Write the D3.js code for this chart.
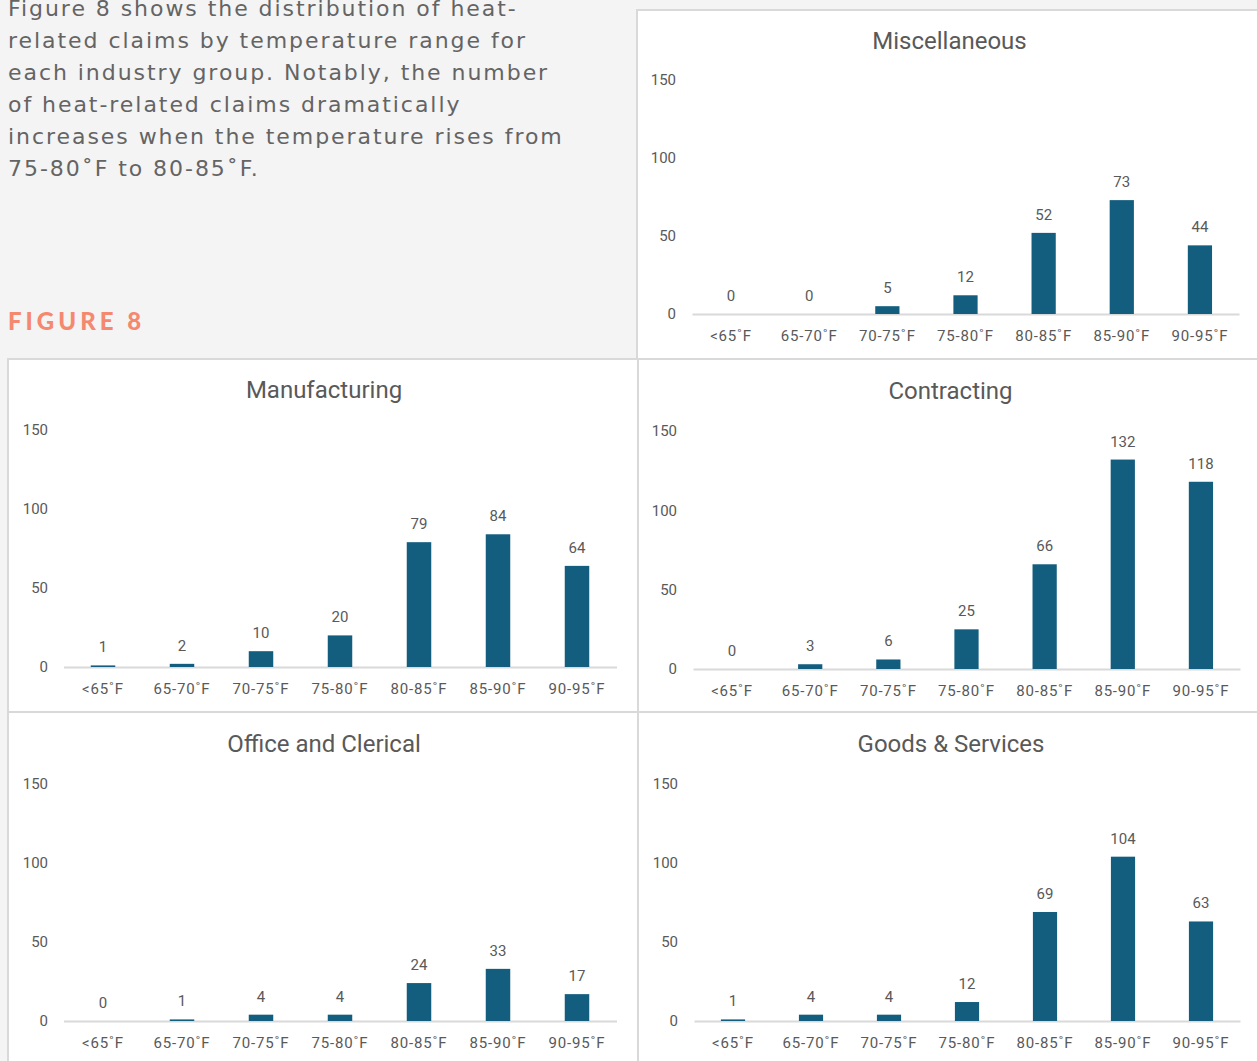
<!DOCTYPE html>
<html>
<head>
<meta charset="utf-8">
<script src="https://cdn.jsdelivr.net/npm/d3@7"></script>
<style>
  html, body { margin: 0; padding: 0; background: #f4f4f4; }
  svg { display: block; }
</style>
</head>
<body>
<svg id="fig" width="1257" height="1061"></svg>
<script>
// Temperature ranges shared by every industry group
const categories = ["<65˚F", "65-70˚F", "70-75˚F", "75-80˚F", "80-85˚F", "85-90˚F", "90-95˚F"];
const yTicks = [0, 50, 100, 150];

// Heat-related claims per temperature range, by industry group
const miscellaneous = [0, 0, 5, 12, 52, 73, 44];
const manufacturing = [1, 2, 10, 20, 79, 84, 64];
const contracting   = [0, 3, 6, 25, 66, 132, 118];
const officeClerical = [0, 1, 4, 4, 24, 33, 17];
const goodsServices = [1, 4, 4, 12, 69, 104, 63];

const introLines = [
  "Figure 8 shows the distribution of heat-",
  "related claims by temperature range for",
  "each industry group. Notably, the number",
  "of heat-related claims dramatically",
  "increases when the temperature rises from",
  "75-80˚F to 80-85˚F."
];

const svg = d3.select("#fig");
const chartFont = "'Liberation Sans Narrow', 'Roboto', sans-serif";
const barColor = "#135d7e";
const textColor = "#595959";

// Intro paragraph
const intro = svg.append("text")
  .attr("font-family", "'DejaVu Sans', 'Open Sans', sans-serif")
  .attr("font-size", 22)
  .attr("letter-spacing", 1.95)
  .attr("fill", "#646464");
introLines.forEach((line, i) => {
  intro.append("tspan").attr("x", 8).attr("y", 16 + i * 32).text(line);
});

svg.append("text")
  .attr("x", 8).attr("y", 330)
  .attr("font-family", "Lato, 'Open Sans', sans-serif")
  .attr("font-weight", 900)
  .attr("font-size", 24)
  .attr("letter-spacing", 4)
  .attr("fill", "#f5896f")
  .text("FIGURE 8");

// Panel frames and plot geometry
const panels = [
  { title: "Miscellaneous", values: miscellaneous,
    frame: [637, 10, 625, 349], x: [692, 1239], y: [314, 80], tickX: 676, titleY: 41 },
  { title: "Manufacturing", values: manufacturing,
    frame: [8, 359, 630, 353], x: [63.5, 616.5], y: [667, 430], tickX: 48, titleY: 390 },
  { title: "Contracting", values: contracting,
    frame: [638, 359, 624, 353], x: [693, 1240], y: [669, 431], tickX: 677, titleY: 391 },
  { title: "Office and Clerical", values: officeClerical,
    frame: [8, 712, 630, 355], x: [63.5, 616.5], y: [1021, 784], tickX: 48, titleY: 744 },
  { title: "Goods & Services", values: goodsServices,
    frame: [638, 712, 624, 355], x: [694, 1240], y: [1021, 784], tickX: 678, titleY: 744 }
];

panels.forEach(p => {
  const g = svg.append("g");
  const [fx, fy, fw, fh] = p.frame;

  g.append("rect")
    .attr("x", fx).attr("y", fy).attr("width", fw).attr("height", fh)
    .attr("fill", "#ffffff")
    .attr("stroke", "#d9d9d9").attr("stroke-width", 2);

  const x = d3.scaleBand().domain(categories).range(p.x).paddingInner(0.69).paddingOuter(0.345);
  const y = d3.scaleLinear().domain([0, 150]).range(p.y);

  // Title
  g.append("text")
    .attr("x", (p.x[0] + p.x[1]) / 2 - 16).attr("y", p.titleY)
    .attr("text-anchor", "middle").attr("dominant-baseline", "central")
    .attr("font-family", chartFont).attr("font-size", 24)
    .attr("fill", textColor)
    .text(p.title);

  // Y axis labels (no axis line)
  const yAxis = d3.axisLeft(y).tickValues(yTicks).tickSize(0).tickPadding(0);
  const ya = g.append("g").attr("transform", `translate(${p.tickX},0)`).call(yAxis);
  ya.select(".domain").remove();
  ya.selectAll("text")
    .attr("font-family", chartFont).attr("font-size", 15).attr("fill", textColor);

  // Category axis along the baseline
  const xAxis = d3.axisBottom(x).tickSize(0).tickPadding(16);
  const xa = g.append("g").attr("transform", `translate(0,${p.y[0]})`).call(xAxis);
  xa.select(".domain").attr("stroke", "#d9d9d9").attr("stroke-width", 2);
  xa.selectAll("text")
    .attr("font-family", chartFont).attr("font-size", 15)
    .attr("letter-spacing", 0.8).attr("fill", textColor);

  // Bars
  g.selectAll("rect.bar").data(p.values).join("rect")
    .attr("class", "bar")
    .attr("x", (d, i) => x(categories[i]))
    .attr("width", x.bandwidth())
    .attr("y", d => y(d))
    .attr("height", d => y(0) - y(d))
    .attr("fill", barColor);

  // Value labels
  g.selectAll("text.val").data(p.values).join("text")
    .attr("class", "val")
    .attr("x", (d, i) => x(categories[i]) + x.bandwidth() / 2)
    .attr("y", d => y(d) - 13)
    .attr("text-anchor", "middle")
    .attr("font-family", chartFont).attr("font-size", 15)
    .attr("fill", textColor)
    .text(d => d);
});
</script>
</body>
</html>
